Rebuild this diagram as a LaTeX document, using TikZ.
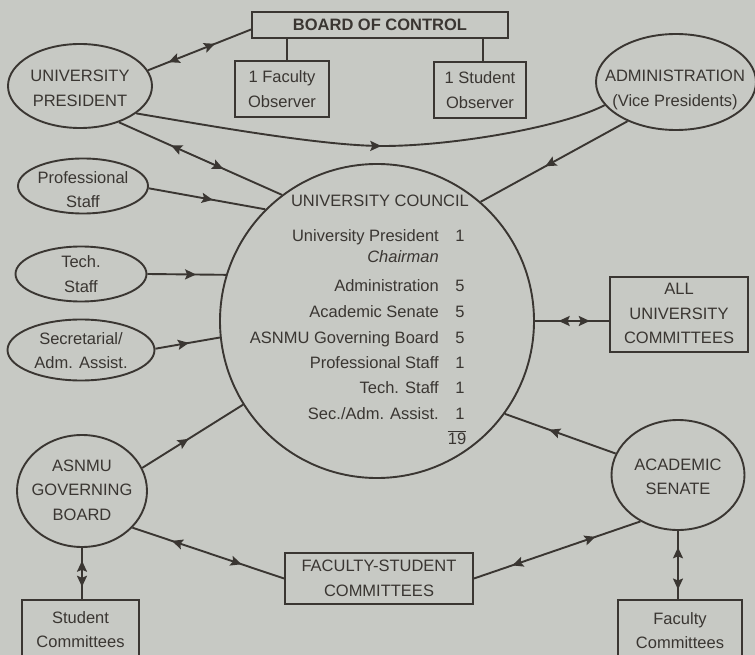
\documentclass[tikz,border=0pt]{standalone}
\usepackage{fontspec}
\setmainfont{Liberation Sans}
\usetikzlibrary{shapes.geometric,arrows.meta,decorations.markings,calc}
\definecolor{bg}{RGB}{199,201,196}
\definecolor{ink}{RGB}{58,54,50}
\begin{document}
\begin{tikzpicture}[x=1pt,y=-1pt,
  every node/.style={text=ink},
  shp/.style={draw=ink, line width=1.9pt, inner sep=0pt},
  ell/.style={shp, ellipse},
  box/.style={shp, rectangle},
  lbl/.style={font=\fontsize{16.5}{24.5}\selectfont, align=center, inner sep=0pt},
  rowtxt/.style={font=\fontsize{16.5}{19}\selectfont, inner sep=0pt, text height=11.5pt, text depth=3.5pt},
  conn/.style={color=ink, line width=1.9pt},
  hd/.tip={Stealth[length=11pt,width=10pt,inset=2pt]},
  fwd/.style={postaction={decorate,decoration={markings,mark=at position #1 with {\arrow{hd}}}}},
  bwd/.style={postaction={decorate,decoration={markings,mark=at position #1 with {\arrowreversed{hd}}}}},
]
\useasboundingbox (0,0) rectangle (755,655);
\fill[bg] (0,0) rectangle (755,655);
\clip (0,0) rectangle (755,655);

% shapes
\node[box, minimum width=256pt, minimum height=26pt] (board) at (380,25) {};
\node[box, minimum width=94pt, minimum height=56pt] (fobs) at (282,89) {};
\node[box, minimum width=92pt, minimum height=56pt] (sobs) at (480,90) {};
\node[ell, minimum width=144pt, minimum height=84pt] (pres) at (80,86) {};
\node[ell, minimum width=160pt, minimum height=96pt] (admin) at (676,82) {};
\node[ell, minimum width=130pt, minimum height=55pt] (prof) at (83,186) {};
\node[ell, minimum width=131pt, minimum height=55pt] (tech) at (81,274) {};
\node[ell, minimum width=147pt, minimum height=61pt] (sec) at (81,350) {};
\node[ell, minimum width=130pt, minimum height=112pt] (asnmu) at (82,491) {};
\node[ell, minimum width=133pt, minimum height=110pt] (acad) at (678,475) {};
\node[shp, circle, minimum size=314pt] (council) at (377,321) {};
\node[box, minimum width=138pt, minimum height=75pt] (allc) at (679,314.5) {};
\node[box, minimum width=188pt, minimum height=51pt] (fs) at (379,578.5) {};
\node[box, minimum width=117pt, minimum height=70pt] (stud) at (80.5,635) {};
\node[box, minimum width=124pt, minimum height=70pt] (facc) at (680,635) {};

% labels
\node[lbl, font=\fontsize{16.5}{24.5}\selectfont\bfseries] (boardT) at (380,25) {BOARD OF CONTROL};
\node[lbl] (fobsT) at (282,89) {1 Faculty\\Observer};
\node[lbl] (sobsT) at (480,90) {1 Student\\Observer};
\node[lbl] (presT) at (80,88.5) {UNIVERSITY\\PRESIDENT};
\node[lbl] (adminT) at (675,90) {ADMINISTRATION\\(Vice Presidents)};
\node[lbl] (profT) at (83,189.5) {Professional\\Staff};
\node[lbl] (techT) at (81,274) {Tech.\\Staff};
\node[lbl] (secT) at (81,350.5) {Secretarial/\\Adm. Assist.};
\node[lbl] (asnmuT) at (82,490) {ASNMU\\GOVERNING\\BOARD};
\node[lbl] (acadT) at (678,477) {ACADEMIC\\SENATE};
\node[lbl] (allcT) at (679,313.5) {ALL\\UNIVERSITY\\COMMITTEES};
\node[lbl] (fsT) at (379,578.5) {FACULTY-STUDENT\\COMMITTEES};
\node[lbl] (studT) at (80.5,629.5) {Student\\Committees};
\node[lbl] (faccT) at (680,630.5) {Faculty\\Committees};

% council contents
\node[rowtxt] (cT) at (380,203) {UNIVERSITY COUNCIL};
\node[rowtxt, anchor=east] (r1) at (439,237) {University President};
\node[rowtxt, anchor=east] (r1b) at (439,258) {\itshape Chairman};
\node[rowtxt, anchor=east] (r2) at (439,287) {Administration};
\node[rowtxt, anchor=east] (r3) at (439,313) {Academic Senate};
\node[rowtxt, anchor=east] (r4) at (439,339) {ASNMU Governing Board};
\node[rowtxt, anchor=east] (r5) at (439,364) {Professional Staff};
\node[rowtxt, anchor=east] (r6) at (439,389) {Tech. Staff};
\node[rowtxt, anchor=east] (r7) at (439,415) {Sec./Adm. Assist.};
\node[rowtxt] (n1) at (460,237) {1};
\node[rowtxt] (n2) at (460,287) {5};
\node[rowtxt] (n3) at (460,313) {5};
\node[rowtxt] (n4) at (460,339) {5};
\node[rowtxt] (n5) at (460,364) {1};
\node[rowtxt] (n6) at (460,389) {1};
\node[rowtxt] (n7) at (460,415) {1};
\node[rowtxt] (n19) at (457,440) {19};
\draw[color=ink, line width=1.4pt] ([yshift=1pt]n19.north west) -- ([yshift=1pt]n19.north east);

% connectors
\coordinate (cmid) at (383,146);
\draw[conn] ([xshift=5pt]fobs.north) -- ([xshift=5pt]fobs.north |- board.south);
\draw[conn] ([xshift=3pt]sobs.north) -- ([xshift=3pt]sobs.north |- board.south);
\draw[conn, bwd=0.2, fwd=0.65] (pres.13) -- (board.182);
\draw[conn, bwd=0.32, fwd=0.64] (pres.-43.5) -- (council.127.2);
\draw[conn, fwd=0.52] (pres.-26) .. controls (200,124) and (320,146) .. (cmid) .. controls (450,146) and (560,128) .. (admin.198);
\draw[conn, fwd=0.55] (prof.-2.6) -- (council.135.8);
\draw[conn, fwd=0.62] (tech.east) -- (council.163.6);
\draw[conn, fwd=0.52] (sec.1) -- (council.186.9);
\draw[conn, fwd=0.46] (asnmu.21.8) -- (council.212.7);
\draw[conn, fwd=0.56] (admin.219.8) -- (council.49.9);
\draw[conn, bwd=0.32, fwd=0.74] (council.east) -- (council.east -| allc.west);
\draw[conn, fwd=0.6] (acad.161) -- (council.-36.8);
\draw[conn, bwd=0.26, fwd=0.72] (asnmu.-36.7) -- (fs.west);
\draw[conn, bwd=0.23, fwd=0.73] (fs.east) -- (acad.231.6);
\draw[conn, bwd=0.25, fwd=0.76] (asnmu.south) -- (asnmu.south |- stud.north);
\draw[conn, bwd=0.24, fwd=0.86] (acad.south) -- (acad.south |- facc.north);
\end{tikzpicture}
\end{document}
